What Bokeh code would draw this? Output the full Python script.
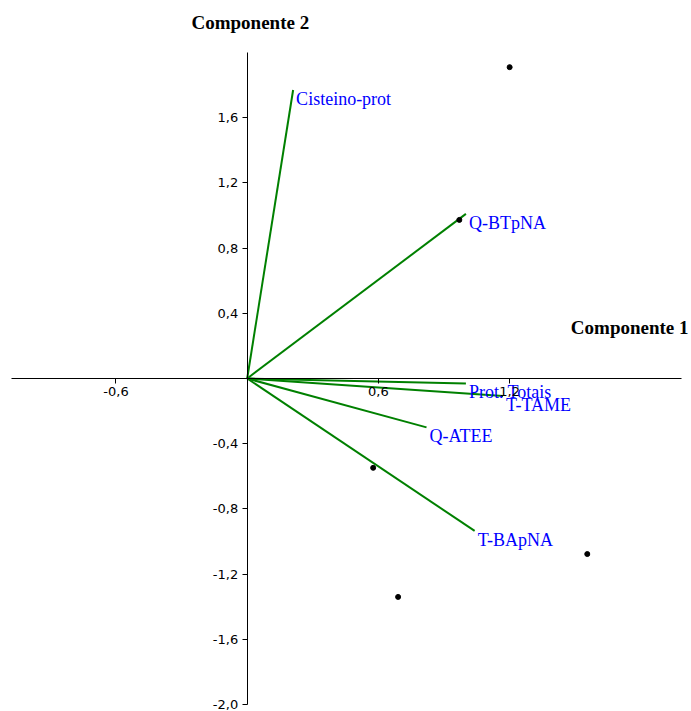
from bokeh.plotting import figure
from bokeh.models import ColumnDataSource, FixedTicker, CustomJSTickFormatter, Label
from bokeh.core.properties import value
from bokeh.embed import file_html
from bokeh.resources import INLINE

# Loadings (vectors)
var_names = ["Cisteino-prot", "Q-BTpNA", "Prot. Totais", "T-TAME", "Q-ATEE", "T-BApNA"]
load_x = [0.21, 1.00, 1.00, 1.17, 0.82, 1.04]
load_y = [1.77, 1.01, -0.03, -0.107, -0.30, -0.935]

# Scores (points)
score_x = [1.20, 0.97, 0.576, 1.555, 0.69]
score_y = [1.91, 0.973, -0.548, -1.077, -1.34]

x_ticks = [-0.6, 0.6, 1.2]
y_ticks = [-2.0, -1.6, -1.2, -0.8, -0.4, 0.4, 0.8, 1.2, 1.6]

p = figure(width=689, height=711, output_backend="svg", toolbar_location=None,
           x_range=(-1.128, 2.0224), y_range=(-2.043, 2.319),
           min_border=0, min_border_left=0, min_border_right=0,
           min_border_top=0, min_border_bottom=0)
p.outline_line_color = None
p.grid.visible = False
p.background_fill_color = "white"

fmt = CustomJSTickFormatter(code="return tick.toFixed(1).replace('.', ',');")
for ax, ticks, bounds in ((p.xaxis[0], x_ticks, (-1.078, 1.986)), (p.yaxis[0], y_ticks, (-2.0, 2.0))):
    ax.fixed_location = 0
    ax.ticker = FixedTicker(ticks=ticks)
    ax.formatter = fmt
    ax.bounds = bounds
    ax.axis_line_color = "black"
    ax.axis_line_width = 1
    ax.major_tick_in = 0
    ax.major_tick_out = 5
    ax.minor_tick_line_color = None
    ax.major_label_text_font = "DejaVu Sans"
    ax.major_label_text_font_size = "13px"
    ax.major_label_text_color = "black"
    ax.major_label_standoff = 4

src = ColumnDataSource(dict(x0=[0.0] * len(load_x), y0=[0.0] * len(load_y),
                            x=load_x, y=load_y, name=var_names))
p.segment(x0="x0", y0="y0", x1="x", y1="y", source=src, line_color="#008000", line_width=2)
p.text(x="x", y="y", text="name", source=src, text_color="#0000FF",
       text_font=value("Liberation Serif"), text_font_size="18px",
       text_align="left", text_baseline="middle", x_offset=3, y_offset=9)

p.scatter(score_x, score_y, size=5, color="black")

p.add_layout(Label(x=-0.2547, y=2.184, text="Componente 2", text_font="Liberation Serif",
                   text_font_style="bold", text_font_size="19px", text_color="black",
                   text_baseline="middle", text_align="left"))
p.add_layout(Label(x=2.018, y=0.315, text="Componente 1", text_font="Liberation Serif",
                   text_font_style="bold", text_font_size="19px", text_color="black",
                   text_baseline="middle", text_align="right"))

open("out.html", "w").write(file_html(p, INLINE))
